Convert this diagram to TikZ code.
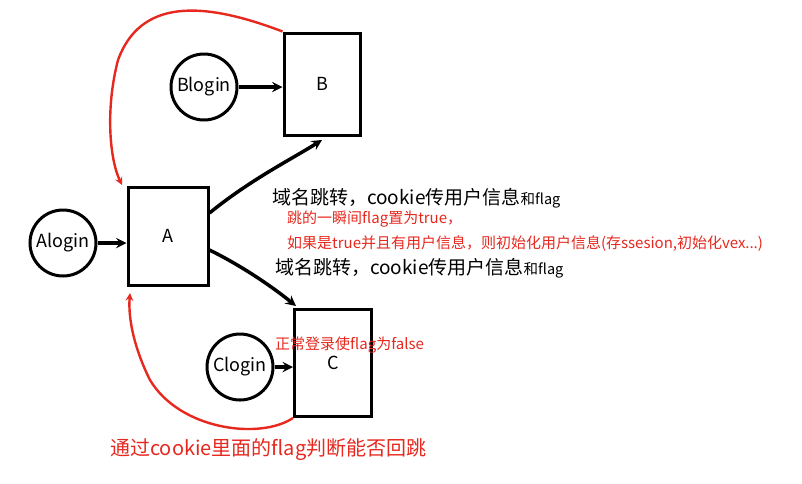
\documentclass[tikz,border=0pt]{standalone}
\usepackage{fontspec}
\setmainfont{Noto Sans CJK SC}
\definecolor{ink}{RGB}{230,40,30}
\tikzset{
  page/.style={x=1pt,y=-1pt},
  login/.style={circle,draw,line width=3pt,minimum size=66pt,inner sep=0pt,font=\fontsize{18}{18}\selectfont},
  site/.style={rectangle,draw,line width=3pt,inner sep=0pt,font=\fontsize{18}{18}\selectfont},
  go/.style={->,line width=3.5pt,>=stealth},
  back/.style={->,line width=2.4pt,ink,>=stealth},
  note/.style={anchor=west,inner sep=0pt,font=\fontsize{19}{19}\selectfont},
  rednote/.style={anchor=west,inner sep=0pt,text=ink,font=\fontsize{15}{15}\selectfont}
}
\begin{document}
\begin{tikzpicture}[page]
  \useasboundingbox (0,0) rectangle (802,483);
  \node[site,minimum width=76pt,minimum height=102pt] (b) at (322,84) {B};
  \node[site,minimum width=80pt,minimum height=98pt] (a) at (168,236) {A};
  \node[site,minimum width=77pt,minimum height=107pt] (c) at (333,363) {C};
  \node[login] (blogin) at (204,87) {Blogin};
  \node[login] (alogin) at (63,243) {Alogin};
  \node[login] (clogin) at (240,367) {Clogin};

  \draw[go] (blogin) -- (b.west |- blogin);
  \draw[go] (alogin) -- (a.west |- alogin);
  \draw[go] (clogin) -- (c.west |- clogin);
  \draw[go] (a.east |- 0,213) .. controls (250,180) and (290,160) .. (322,140);
  \draw[go] (a.east |- 0,250) .. controls (240,265) and (270,285) .. (296,306);

  % red return paths
  \draw[back] (b.north west) .. controls (200,0) and (140,0) .. (118,60)
    .. controls (105,110) and (110,160) .. (122,185);
  \draw[back] (c.south west) .. controls (260,440) and (180,430) .. (150,380)
    .. controls (135,350) and (128,320) .. (130,293);

  \node[note] (t1) at (272,198) {域名跳转，cookie传用户信息{\fontsize{14.5}{14.5}\selectfont 和flag}};
  \node[rednote] (t2) at (287,219) {跳的一瞬间flag置为true，};
  \node[rednote] (t3) at (287,244) {如果是true并且有用户信息，则初始化用户信息(存ssesion,初始化vex...)};
  \node[note] (t4) at (275,268) {域名跳转，cookie传用户信息{\fontsize{14.5}{14.5}\selectfont 和flag}};
  \node[rednote] (t5) at (275,345) {正常登录使flag为false};
  \node[note,text=ink,font=\fontsize{20}{20}\selectfont] (t6) at (110,450) {通过cookie里面的flag判断能否回跳};
\end{tikzpicture}
\end{document}
